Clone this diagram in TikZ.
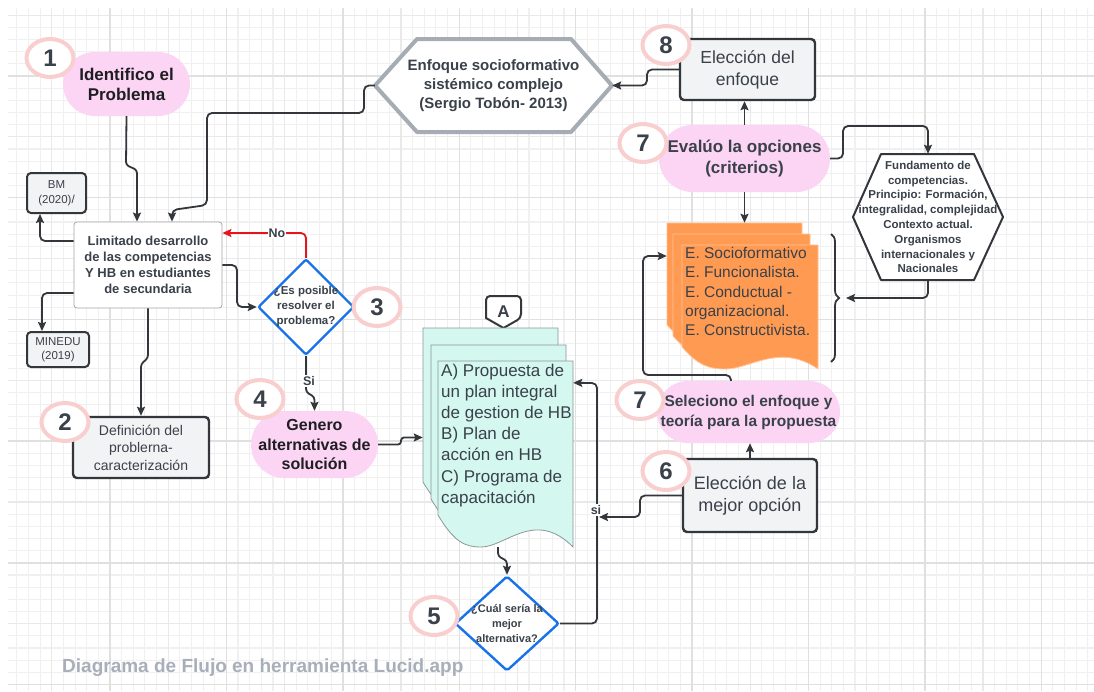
\documentclass[tikz,border=0pt]{standalone}
\usepackage{fontspec}
\setmainfont{Liberation Sans}
\usetikzlibrary{arrows.meta,shapes.geometric,shapes.misc,calc,decorations.pathreplacing}
\definecolor{pinkF}{RGB}{252,213,244}
\definecolor{ringC}{RGB}{249,206,206}
\definecolor{lineC}{RGB}{51,55,60}
\definecolor{hexG}{RGB}{166,172,180}
\definecolor{boxF}{RGB}{242,243,245}
\definecolor{txtD}{RGB}{58,65,74}
\definecolor{txtB}{RGB}{30,30,34}
\definecolor{blueC}{RGB}{24,115,232}
\definecolor{redC}{RGB}{232,20,28}
\definecolor{orangeF}{RGB}{255,154,82}
\definecolor{orangeD}{RGB}{255,196,150}
\definecolor{tealF}{RGB}{212,247,240}
\definecolor{tealD}{RGB}{140,152,150}
\definecolor{wmC}{RGB}{168,175,186}
\definecolor{gMin}{RGB}{240,240,240}
\definecolor{gMed}{RGB}{233,233,233}
\definecolor{gMaj}{RGB}{224,224,224}
\newcommand\fsz[2]{\fontsize{#1}{#2}\selectfont}
\newcommand\docsheet[7]{%
  \filldraw[fill=#6, draw=#7, line width=0.8pt]
  (#1,#4) -- (#1,#2) -- ({#1+#3},#2) -- ({#1+#3},{#4+#5})
  .. controls ({#1+0.72*#3},{#4-0.2*#5}) and ({#1+0.5*#3},{#4+#5}) .. ({#1+0.32*#3},{#4+#5})
  .. controls ({#1+0.2*#3},{#4+#5}) and ({#1+0.12*#3},{#4+0.85*#5}) .. (#1,#4) -- cycle;}
\begin{document}
\begin{tikzpicture}[x=1pt,y=-1pt,
  pill/.style={rounded rectangle, fill=pinkF, inner sep=0pt},
  gbox/.style={rectangle, rounded corners=4pt, fill=boxF, draw=lineC, line width=2.4pt, inner sep=0pt, text=txtD, align=center},
  badge/.style={ellipse, draw=ringC, line width=4pt, fill=white, inner sep=0pt, minimum width=47pt, minimum height=38pt, text=txtD, font=\bfseries\fsz{24}{24}},
  diam/.style={diamond, draw=blueC, line width=2.4pt, fill=white, inner sep=0pt, rounded corners=2pt},
  conn/.style={draw=lineC, line width=1.8pt, rounded corners=5pt, -{Stealth[length=9pt,width=8pt,inset=1.5pt]}},
  jog/.style={rounded corners=3pt},
  lab/.style={fill=white, inner sep=1pt, text=txtD, font=\bfseries\fsz{12.5}{14}},
  gminor/.style={draw=gMin, line width=1.1pt},
  gmed/.style={draw=gMed, line width=1.2pt},
  gmaj/.style={draw=gMaj, line width=1.4pt}]
\useasboundingbox (0,0) rectangle (1094,691);
\fill[white] (0,0) rectangle (1094,691);
% grid
\foreach \k in {-8,...,84} {\draw[gminor] ({110+11.64*\k},8) -- ({110+11.64*\k},691);}
\foreach \k in {-5,...,50} {\draw[gminor] (8,{76+12.17*\k}) -- (1094,{76+12.17*\k});}
\foreach \k in {-5,0,...,80} {\draw[gmed] ({110+11.64*\k},8) -- ({110+11.64*\k},691);}
\foreach \k in {-5,0,...,50} {\draw[gmed] (8,{76+12.17*\k}) -- (1094,{76+12.17*\k});}
\foreach \k in {0,10,...,80} {\draw[gmaj] ({110+11.64*\k},8) -- ({110+11.64*\k},691);}
\foreach \k in {0,10,...,50} {\draw[gmaj] (8,{76+12.17*\k}) -- (1094,{76+12.17*\k});}

% hexagon Enfoque
\filldraw[fill=white, draw=hexG, line width=4pt, line join=round]
  (375,85.5) -- (417,39) -- (571,39) -- (612,85.5) -- (571,132) -- (417,132) -- cycle;
\node[minimum width=237pt, minimum height=93pt, inner sep=0pt, align=center, text=txtD,
  font=\bfseries\fsz{15}{19.3}] (hexE) at (493.5,85.5)
  {Enfoque socioformativo\\sistémico complejo\\(Sergio Tobón- 2013)};

% hexagon Fundamento
\filldraw[fill=white, draw=lineC, line width=2pt, line join=round]
  (853,217) -- (881,154) -- (974,154) -- (1003,217) -- (974,280) -- (881,280) -- cycle;
\node[minimum width=150pt, minimum height=126pt, inner sep=0pt, align=center, text=txtD,
  font=\bfseries\fsz{11.5}{14.8}] (hexF) at (928,217)
  {Fundamento de\\competencias.\\Principio: Formación,\\integralidad, complejidad\\Contexto actual.\\Organismos\\internacionales y\\Nacionales};

% pills
\node[pill, minimum width=127pt, minimum height=64pt] (idp) at (126.5,84) {};
\node[align=center, text=txtB, font=\bfseries\fsz{17}{20}] at (idp) {Identifico el\\Problema};
\node[pill, minimum width=127pt, minimum height=67pt] (gen) at (314.5,444.5) {};
\node[align=center, text=txtB, font=\bfseries\fsz{16}{19.4}] at (gen) {Genero\\alternativas de\\solución};
\node[pill, minimum width=171pt, minimum height=67pt] (eva) at (744.5,158.5) {};
\node[align=center, text=txtD, font=\bfseries\fsz{17}{21.5}] at (eva) {Evalúo la opciones\\(criterios)};
\node[pill, minimum width=183pt, minimum height=62pt] (sel) at (748.5,412) {};
\node[align=center, text=txtD, font=\bfseries\fsz{15.5}{20}] at (sel) {Seleciono el enfoque y\\teoría para la propuesta};

% boxes
\node[gbox, minimum width=135pt, minimum height=61pt, font=\fsz{17.5}{22}] (ele) at (747.5,69.5) {Elección del\\enfoque};
\node[gbox, minimum width=134pt, minimum height=73pt, font=\fsz{18}{22.5}] (mej) at (750,495.5) {Elección de la\\mejor opción};
\node[gbox, minimum width=136pt, minimum height=61pt, font=\fsz{14}{17.5}] (def) at (141,447.5) {Definición del\\problerna-\\caracterización};
\node[gbox, minimum width=59pt, minimum height=40pt, line width=2pt, font=\fsz{11.5}{14.5}] (bm) at (56.5,193) {BM\\(2020)/};
\node[gbox, minimum width=62pt, minimum height=35pt, line width=2pt, font=\fsz{11.5}{14.5}] (mined) at (58,349.5) {MINEDU\\(2019)};
\node[rectangle, rounded corners=3pt, fill=white, draw=gray!70, line width=0.8pt, minimum width=148pt, minimum height=86pt,
  inner sep=0pt, align=center, text=txtD, font=\bfseries\fsz{13}{16.1}] (lim) at (148,265)
  {Limitado desarrollo\\de las competencias\\Y HB en estudiantes\\de secundaria};

% diamonds
\node[diam, minimum width=96pt, minimum height=96pt] (d3) at (306,307) {};
\node[align=center, text=txtD, font=\bfseries\fsz{11.5}{15}] at (d3) {¿Es posible\\resolver el\\problema?};
\node[diam, minimum width=104pt, minimum height=95pt] (d5) at (507,623.5) {};
\node[align=center, text=txtD, font=\bfseries\fsz{11}{14.6}] at (d5) {¿Cuál sería la\\mejor\\alternativa?};

% off-page connector A
\filldraw[fill=white, draw=lineC, line width=2pt, rounded corners=4pt]
  (486,318) -- (486,296) -- (521,296) -- (521,318) [sharp corners] -- (503.5,328) -- cycle;
\node[minimum width=35pt, minimum height=32pt, inner sep=0pt, text=txtD, font=\bfseries\fsz{17}{17}] (offA) at (503.5,312) {A};

% teal document stack
\docsheet{423}{328}{135}{482}{32}{tealF}{tealD}
\docsheet{431}{345}{135}{499}{32}{tealF}{tealD}
\docsheet{438}{361}{135}{515}{32}{tealF}{tealD}
\node[minimum width=150pt, minimum height=219pt, inner sep=0pt] (docA) at (498,437.5) {};
\node[anchor=north west, inner sep=0pt, align=left, text=txtD, font=\fsz{17}{21.1}] at (441,364)
  {A) Propuesta de\\un plan integral\\de gestion de HB\\B) Plan de\\acción en HB\\C) Programa de\\capacitación};

% orange document stack
\docsheet{667}{223}{135}{325}{22}{orangeF}{orangeD}
\docsheet{673}{234}{137}{336}{22}{orangeF}{orangeD}
\docsheet{682}{245}{136}{347}{22}{orangeF}{orangeD}
\node[minimum width=151pt, minimum height=146pt, inner sep=0pt] (docO) at (742.5,296) {};
\node[anchor=north west, inner sep=0pt, align=left, text=txtD, font=\fsz{15.5}{19.3}] at (685,247)
  {E. Socioformativo\\E. Funcionalista.\\E. Conductual -\\organizacional.\\E. Constructivista.};

% brace
\draw[draw=lineC, line width=1.8pt, decorate, decoration={brace, amplitude=8pt}] (831,234) -- (831,362);
\coordinate (bt) at (846,298);

% connectors
\draw[conn, jog] (idp.south) -- (126,165) -- (137,170) -- ($(lim.north)+(-11,0)$);
\draw[conn] (hexE.west) -- (364,85.5) -- (364,113) -- (207,113) -- (207,205) -- (172,210) -- ($(lim.north)+(24,0)$);
\draw[conn] (ele.west) -- (647,69.5) -- (647,85.5) -- (hexE.east);
\draw[conn] (eva.north) -- (eva.north |- ele.south);
\draw[conn] (eva.east) -- (843,158.5) -- (843,126) -- (928,126) -- (hexF.north);
\draw[conn] (hexF.south) -- (928,298) -- (bt);
\draw[conn] (eva.south) -- (eva.south |- docO.north);
\draw[conn] ($(sel.north)+(-17.5,0)$) -- (731,375) -- (643,375) -- (643,256) -- ($(docO.west)+(0,-40)$);
\draw[conn] (mej.north) -- (mej.north |- sel.south);
\draw[conn] (d5.east) -- (597,623.5) -- (597,383) -- ($(docA.north east)+(0,55)$);
\coordinate (sij) at (599,517);
\draw[conn] (mej.west) -- (640,495.5) -- (640,517) -- (sij);
\draw[conn, jog] (docA.south) -- (498,556) -- (507,561) -- (d5.north);
\draw[conn, jog] (gen.east) -- (401,444.5) -- (401,437.5) -- (docA.west);
\draw[conn] (lim.east) -- (237,265) -- (237,307) -- (d3.west);
\draw[conn, draw=redC] (d3.north) -- (306,233) -- ($(lim.east)+(0,-32)$);
\draw[conn, jog] (d3.south) -- (306,392) -- (314.5,397) -- (gen.north);
\draw[conn] ($(lim.west)+(0,-24)$) -- (40,241) -- ($(bm.south)+(-16.5,0)$);
\draw[conn] ($(lim.west)+(0,28)$) -- (42,293) -- ($(mined.north)+(-16,0)$);
\draw[conn, jog] (lim.south) -- (148,358) -- (141,364) -- (def.north);

% labels
\node[lab] (lNo) at (277,233) {No};
\node[lab] (lSi) at (309,381) {Si};
\node[lab] (lsi) at (596,510) {si};

% badges
\node[badge] (b1) at (50,58) {1};
\node[badge] (b8) at (666,45) {8};
\node[badge] (b7a) at (643,143) {7};
\node[badge] (b7b) at (640,400) {7};
\node[badge] (b6) at (666,471) {6};
\node[badge] (b3) at (377,307) {3};
\node[badge] (b4) at (260,399) {4};
\node[badge] (b2) at (65,422) {2};
\node[badge] (b5) at (434,616) {5};

% watermark
\node[anchor=base west, inner sep=0pt, text=wmC, font=\bfseries\fsz{19}{22}] (wm) at (62,672) {Diagrama de Flujo en herramienta Lucid.app};
\end{tikzpicture}
\end{document}
